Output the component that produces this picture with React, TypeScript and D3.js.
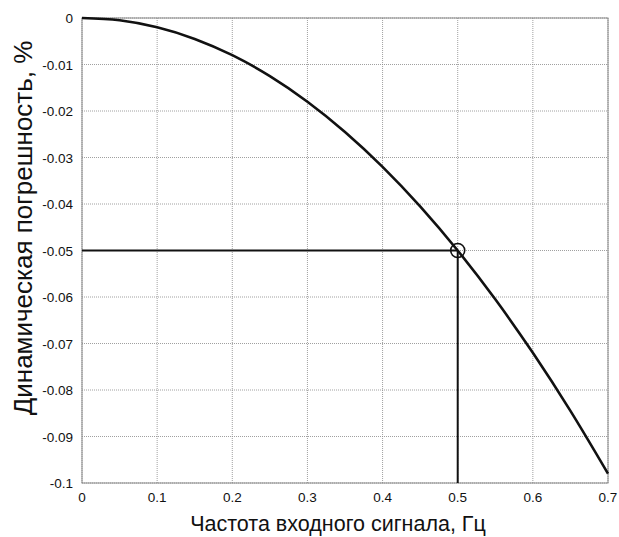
import React from "react";
import * as d3 from "d3";

const freq = [0, 0.05, 0.1, 0.15, 0.2, 0.25, 0.3, 0.35, 0.4, 0.45, 0.5, 0.55, 0.6, 0.65, 0.7];
const error = [0, -0.0005, -0.002, -0.0045, -0.008, -0.0125, -0.018, -0.0245, -0.032, -0.0405, -0.05, -0.0605, -0.072, -0.0845, -0.098];
const xTicks = [0, 0.1, 0.2, 0.3, 0.4, 0.5, 0.6, 0.7];
const yTicks = [0, -0.01, -0.02, -0.03, -0.04, -0.05, -0.06, -0.07, -0.08, -0.09, -0.1];
const markF = 0.5;
const markE = -0.05;
const xTitle = "Частота входного сигнала, Гц";
const yTitle = "Динамическая погрешность, %";

export default function App() {
  const W = 619, H = 537;
  const L = 82, R = 608, T = 18, B = 483;
  const x = d3.scaleLinear().domain([0, 0.7]).range([L, R]);
  const y = d3.scaleLinear().domain([0, -0.1]).range([T, B]);
  const pts: [number, number][] = freq.map((f, i) => [f, error[i]]);
  const line = d3.line<[number, number]>().x(d => x(d[0])).y(d => y(d[1])).curve(d3.curveMonotoneX);
  const font = "'Liberation Sans', Arial, sans-serif";
  return (
    <svg width={W} height={H} style={{ position: "absolute", left: 0, top: 0, background: "#fff" }}>
      <rect x={0} y={0} width={W} height={H} fill="#fff" />
      {xTicks.map(t => (
        <line key={"gx" + t} x1={x(t)} x2={x(t)} y1={T} y2={B} stroke="#888" strokeWidth={0.8} strokeDasharray="1,1" />
      ))}
      {yTicks.map(t => (
        <line key={"gy" + t} x1={L} x2={R} y1={y(t)} y2={y(t)} stroke="#888" strokeWidth={0.8} strokeDasharray="1,1" />
      ))}
      <rect x={L} y={T} width={R - L} height={B - T} fill="none" stroke="#888" strokeWidth={1} />
      {xTicks.map(t => (
        <text key={"tx" + t} x={x(t)} y={B + 19} fontFamily={font} fontSize={13.5} textAnchor="middle" fill="#111">
          {String(t)}
        </text>
      ))}
      {yTicks.map(t => (
        <text key={"ty" + t} x={L - 9} y={y(t) + 5} fontFamily={font} fontSize={13.5} textAnchor="end" fill="#111">
          {String(t)}
        </text>
      ))}
      <line x1={x(0)} x2={x(markF)} y1={y(markE)} y2={y(markE)} stroke="#111" strokeWidth={2} />
      <line x1={x(markF)} x2={x(markF)} y1={y(markE)} y2={y(-0.1)} stroke="#111" strokeWidth={2} />
      <path d={line(pts) || ""} fill="none" stroke="#111" strokeWidth={2.6} />
      <circle cx={x(markF)} cy={y(markE)} r={7} fill="none" stroke="#111" strokeWidth={1.6} />
      <text x={338} y={531} fontFamily={font} fontSize={21.5} textAnchor="middle" fill="#111">{xTitle}</text>
      <text transform={`translate(32,228) rotate(-90)`} fontFamily={font} fontSize={26} textAnchor="middle" fill="#111">{yTitle}</text>
    </svg>
  );
}
